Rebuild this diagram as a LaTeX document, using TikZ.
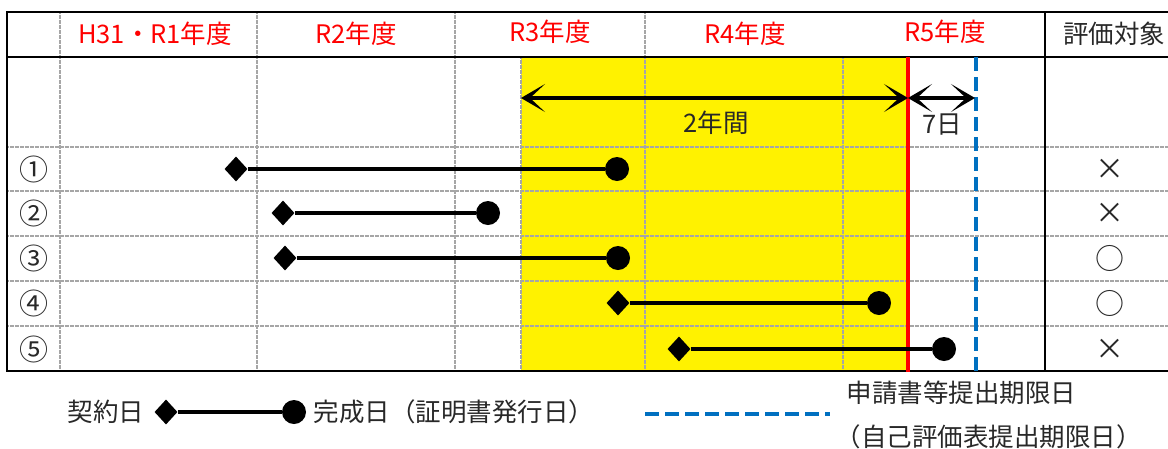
\documentclass[tikz,border=0pt]{standalone}
\usepackage{fontspec}
\setmainfont{Noto Sans CJK JP}
\usetikzlibrary{shapes.geometric,arrows.meta}

\definecolor{deadblue}{RGB}{0,112,192}
\definecolor{inkgray}{RGB}{40,40,40}

\tikzset{
	cellline/.style={draw=gray!70, line width=1.8pt, dash pattern=on 2pt off 0.5pt},
	frameline/.style={draw=black, line width=2.6pt},
	yearlabel/.style={text=red},
	marklabel/.style={font=\fontsize{29}{32}\selectfont},
	startmark/.style={diamond, fill=black, inner sep=0pt, minimum width=23pt, minimum height=25pt},
	endmark/.style={circle, fill=black, inner sep=0pt, minimum size=24pt},
	barline/.style={line width=3.4pt},
	spanarrow/.style={line width=3.4pt, {Stealth[length=24pt,width=28pt,inset=15pt]}-{Stealth[length=24pt,width=28pt,inset=15pt]}},
	limitline/.style={draw=deadblue, line width=3.6pt, dash pattern=on 14pt off 6pt}
}

\begin{document}
\begin{tikzpicture}[x=1pt, y=-1pt, every node/.style={text=inkgray, font=\fontsize{25.5}{30}\selectfont}]
\useasboundingbox (0,0) rectangle (1168,448);
\clip (0,0) rectangle (1168,448);

% 2 year window
\fill[yellow] (521,57) rectangle (908,371);

% grid of the table
\foreach \y in {147,191,236,281,326}
	\draw[cellline] (7,\y) -- (1180,\y);
\foreach \x in {60,257,455,645}
	\draw[cellline] (\x,12) -- (\x,371);
\foreach \x in {521,843}
	\draw[cellline] (\x,57) -- (\x,371);
\draw[frameline] (7,12) -- (1180,12);
\draw[frameline] (7,57) -- (1180,57);
\draw[frameline] (7,371) -- (1180,371);
\draw[frameline] (7,11) -- (7,372);
\draw[line width=2pt] (1045,12) -- (1045,371);

% header
\node[yearlabel] (h1) at (155,34) {H31・R1年度};
\node[yearlabel] (h2) at (356,34) {R2年度};
\node[yearlabel] (h3) at (550,32) {R3年度};
\node[yearlabel] (h4) at (745,34) {R4年度};
\node[yearlabel] (h5) at (945,32) {R5年度};
\node (h6) at (1114,34) {評価対象};

% deadline lines
\draw[red, line width=3.6pt] (908,57) -- (908,372);
\draw[limitline] (976,57) -- (976,372);

% spans
\coordinate (w1) at (521,98);
\coordinate (w2) at (908,98);
\coordinate (w3) at (975,98);
\draw[spanarrow] (w1) -- (w2);
\draw[spanarrow] (w2) -- (w3);
\node (twoyears) at (716,123) {2年間};
\node (sevendays) at (942,125) {7日};

% rows
\foreach \n/\y/\num/\res in {1/169/①/×, 2/213/②/×, 3/258/③/○, 4/303/④/○, 5/349/⑤/×}{
	\node[marklabel] (r\n) at (34,\y) {\num};
	\node[marklabel] (v\n) at (1110,\y) {\res};
}
\foreach \n/\a/\b/\y in {1/236/617/169, 2/283/488/213, 3/285/618/258, 4/618/879/303, 5/679/944/349}{
	\node[startmark] (s\n) at (\a,\y) {};
	\node[endmark] (e\n) at (\b,\y) {};
	\draw[barline] (s\n) -- (e\n);
}

% legend
\node[anchor=east] (contract) at (148,412) {契約日};
\node[startmark] (ls) at (166,412) {};
\node[endmark] (le) at (294,412) {};
\draw[barline] (ls) -- (le);
\node[anchor=west] (done) at (310,412) {完成日（証明書発行日）};
\coordinate (b1) at (645,414);
\coordinate (b2) at (830,414);
\draw[limitline] (b1) -- (b2);
\node[anchor=west] (limit1) at (843,393) {申請書等提出期限日};
\node[anchor=west] (limit2) at (832,437) {（自己評価表提出期限日）};

\end{tikzpicture}
\end{document}
